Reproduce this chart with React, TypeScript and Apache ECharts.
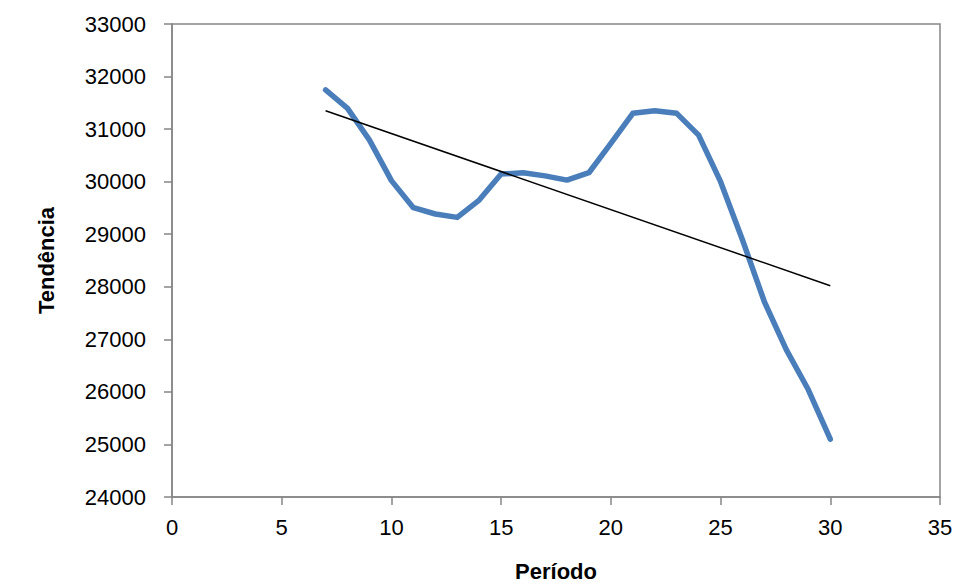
import React, { useEffect, useRef } from "react";
import * as echarts from "echarts";

const periods = [7, 8, 9, 10, 11, 12, 13, 14, 15, 16, 17, 18, 19, 20, 21, 22, 23, 24, 25, 26, 27, 28, 29, 30];
const trendValues = [31745, 31395, 30790, 30020, 29505, 29385, 29320, 29650, 30145, 30170, 30110, 30030, 30170, 30730, 31300, 31350, 31300, 30885, 30000, 28890, 27710, 26800, 26040, 25100];
const trendLineX = [7, 30];
const trendLineY = [31350, 28020];

export default function App() {
  const ref = useRef<HTMLDivElement>(null);
  useEffect(() => {
    if (!ref.current) return;
    const chart = echarts.init(ref.current, undefined, { renderer: "svg" });
    const font = "Liberation Sans";
    const axisColor = "#868686";
    chart.setOption({
      animation: false,
      backgroundColor: "#ffffff",
      grid: {
        left: 172,
        right: 16,
        top: 24,
        bottom: 87,
        show: true,
        borderColor: axisColor,
        borderWidth: 1.5,
        containLabel: false,
        outerBoundsMode: "none",
      },
      xAxis: {
        type: "value",
        min: 0,
        max: 35,
        interval: 5,
        name: "Período",
        nameLocation: "middle",
        nameGap: 63,
        nameTextStyle: { fontFamily: font, fontSize: 22, fontWeight: "bold", color: "#000" },
        axisLine: { show: true, lineStyle: { color: axisColor, width: 1.5 } },
        axisTick: { show: true, inside: false, length: 8, lineStyle: { color: axisColor, width: 1.5 } },
        axisLabel: { fontFamily: font, fontSize: 22, color: "#000", margin: 19, formatter: (v: number) => String(v) },
        splitLine: { show: false },
      },
      yAxis: {
        type: "value",
        min: 24000,
        max: 33000,
        interval: 1000,
        name: "Tendência",
        nameLocation: "middle",
        nameGap: 115,
        nameRotate: 90,
        nameTextStyle: { fontFamily: font, fontSize: 22, fontWeight: "bold", color: "#000" },
        axisLine: { show: true, lineStyle: { color: axisColor, width: 1.5 } },
        axisTick: { show: true, inside: false, length: 8, lineStyle: { color: axisColor, width: 1.5 } },
        axisLabel: { fontFamily: font, fontSize: 22, color: "#000", margin: 26, formatter: (v: number) => String(v) },
        splitLine: { show: false },
      },
      series: [
        {
          type: "line",
          data: periods.map((p, i) => [p, trendValues[i]]),
          showSymbol: false,
          symbol: "none",
          lineStyle: { color: "#4A7EBB", width: 5.5, cap: "round", join: "round" },
          smooth: false,
        },
        {
          type: "line",
          data: trendLineX.map((x, i) => [x, trendLineY[i]]),
          symbol: "none",
          lineStyle: { color: "#000000", width: 1.5 },
        },
      ],
    });
    return () => chart.dispose();
  }, []);
  return (
    <div
      ref={ref}
      style={{ position: "absolute", left: 0, top: 0, width: 956, height: 584 }}
    />
  );
}
